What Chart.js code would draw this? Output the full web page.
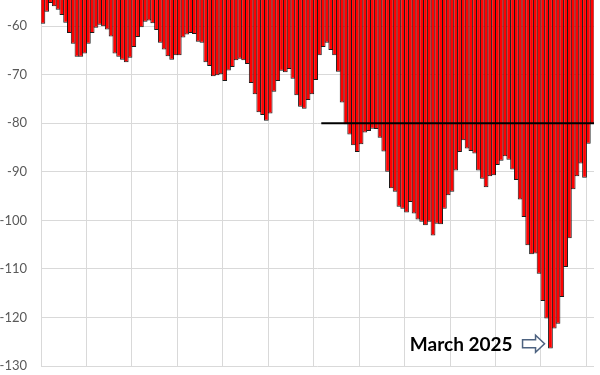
<!DOCTYPE html>
<html>
<head>
<meta charset="utf-8">
<script src="https://cdn.jsdelivr.net/npm/chart.js@4.4.1/dist/chart.umd.min.js"></script>
<style>
  html, body { margin: 0; padding: 0; background: #fff; }
</style>
</head>
<body>
<canvas id="chart" width="600" height="375"></canvas>
<script>
// monthly values, Jan 2014 .. Feb 2026
const monthNames = ['Jan', 'Feb', 'Mar', 'Apr', 'May', 'Jun', 'Jul', 'Aug', 'Sep', 'Oct', 'Nov', 'Dec'];
const firstYear = 2014;
const yTicks = [-60, -70, -80, -90, -100, -110, -120, -130];

const values = [
  -59.5, -57.0, -55.2, -55.9, -56.6, -57.7, -59.3, -61.4, -63.6, -66.3, -66.3, -65.6, // 2014
  -63.6, -61.4, -60.3, -59.7, -60.0, -60.7, -62.1, -65.6, -66.3, -66.9, -67.4, -66.5, // 2015
  -64.3, -62.2, -60.2, -59.1, -58.8, -59.4, -60.8, -63.4, -64.8, -66.2, -66.9, -66.0, // 2016
  -66.0, -62.3, -61.7, -61.4, -61.6, -63.2, -63.4, -67.4, -68.2, -70.3, -70.1, -69.9, // 2017
  -71.3, -69.1, -68.4, -67.0, -66.7, -67.0, -67.8, -71.7, -74.0, -77.7, -78.3, -79.5, // 2018
  -78.0, -73.5, -71.3, -69.2, -69.5, -68.8, -70.8, -74.2, -76.6, -77.0, -75.2, -74.0, // 2019
  -71.1, -66.0, -64.3, -63.4, -64.9, -66.0, -69.4, -75.7, -80.2, -82.3, -84.5, -85.9, // 2020
  -84.3, -81.9, -81.6, -81.1, -81.2, -83.0, -85.8, -90.0, -93.4, -94.1, -97.2, -97.6, // 2021
  -98.4, -96.2, -98.6, -99.8, -100.3, -101.0, -100.3, -103.1, -100.7, -100.8, -97.6, -94.8, // 2022
  -94.1, -89.7, -85.9, -83.5, -85.2, -85.7, -86.2, -89.7, -91.4, -93.2, -90.9, -90.7, // 2023
  -88.6, -87.7, -86.8, -87.5, -89.5, -91.7, -95.7, -99.3, -105.1, -107.0, -106.8, -111.0, // 2024
  -116.6, -120.2, -126.4, -122.3, -121.3, -115.8, -109.6, -103.7, -93.6, -90.9, -88.3, -91.2, // 2025
  -84.2, -80.1 // 2026
];

const labels = values.map((v, i) => monthNames[i % 12] + ' ' + (firstYear + Math.floor(i / 12)));

const refLevel = -80;
const refStart = 'Mar 2020';
const noteText = 'March 2025';
const noteMonth = 'Mar 2025';
const noteLevel = -125.4;

const refLine = {
  id: 'refLine',
  afterDatasetsDraw(chart) {
    const { ctx, scales: { x, y } } = chart;
    const half = (x.getPixelForValue(1) - x.getPixelForValue(0)) / 2;
    const x0 = x.getPixelForValue(labels.indexOf(refStart)) - half;
    const x1 = x.getPixelForValue(labels.length - 1) + half;
    const yy = y.getPixelForValue(refLevel);
    ctx.save();
    ctx.strokeStyle = '#000';
    ctx.lineWidth = 2;
    ctx.beginPath();
    ctx.moveTo(x0, yy);
    ctx.lineTo(x1, yy);
    ctx.stroke();
    ctx.restore();
  }
};

const note = {
  id: 'note',
  afterDraw(chart) {
    const { ctx, scales: { x, y } } = chart;
    const half = (x.getPixelForValue(1) - x.getPixelForValue(0)) / 2;
    const tip = x.getPixelForValue(labels.indexOf(noteMonth)) - half - 4;
    const cy = y.getPixelForValue(noteLevel);
    const tail = tip - 22;
    const neck = tip - 9;
    ctx.save();
    ctx.beginPath();
    ctx.moveTo(tail, cy - 4);
    ctx.lineTo(neck, cy - 4);
    ctx.lineTo(neck, cy - 8.5);
    ctx.lineTo(tip, cy);
    ctx.lineTo(neck, cy + 8.5);
    ctx.lineTo(neck, cy + 4);
    ctx.lineTo(tail, cy + 4);
    ctx.closePath();
    ctx.fillStyle = '#fff';
    ctx.fill();
    ctx.strokeStyle = '#4d6280';
    ctx.lineWidth = 1.5;
    ctx.stroke();

    ctx.fillStyle = '#000';
    ctx.font = 'bold 19px Lato';
    ctx.textAlign = 'right';
    ctx.textBaseline = 'alphabetic';
    ctx.fillText(noteText, tail - 10, cy + 7);
    ctx.restore();
  }
};

new Chart(document.getElementById('chart'), {
  type: 'bar',
  data: {
    labels: labels,
    datasets: [{
      data: values,
      backgroundColor: '#ff0000',
      borderColor: '#1a1a1a',
      borderWidth: 1,
      borderSkipped: 'start',
      barPercentage: 1.26,
      categoryPercentage: 1
    }]
  },
  options: {
    responsive: false,
    animation: false,
    layout: { padding: { left: 0, right: 6, top: 0, bottom: 9 } },
    plugins: {
      legend: { display: false },
      tooltip: { enabled: false }
    },
    scales: {
      x: {
        border: { display: false },
        grid: {
          offset: true,
          drawTicks: false,
          color: (c) => (c.index % 12 === 0 ? '#d9d9d9' : 'rgba(0,0,0,0)'),
          lineWidth: 1
        },
        ticks: { display: false, autoSkip: false },
        afterFit: (scale) => { scale.height = 0; }
      },
      y: {
        min: -130,
        max: -54.6,
        afterBuildTicks: (scale) => { scale.ticks = yTicks.map(v => ({ value: v })); },
        afterFit: (scale) => {
          scale.width = 41;
          scale.paddingTop = 0;
          scale.paddingBottom = 0;
        },
        border: { display: false },
        grid: { color: '#d9d9d9', lineWidth: 1, drawTicks: false },
        ticks: {
          padding: 14,
          color: '#595959',
          font: { family: 'Lato', size: 13 }
        }
      }
    }
  },
  plugins: [refLine, note]
});
</script>
</body>
</html>
